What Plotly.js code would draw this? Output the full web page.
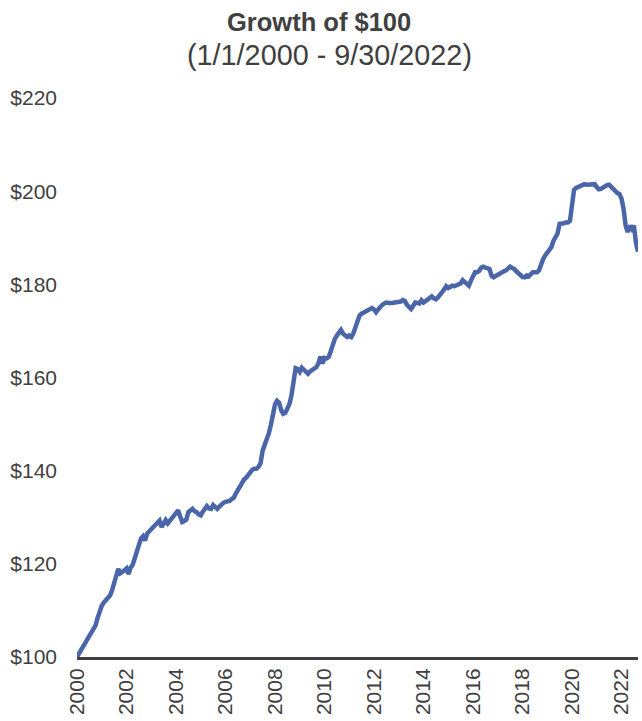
<!DOCTYPE html>
<html>
<head>
<meta charset="utf-8">
<script src="https://cdn.plot.ly/plotly-3.0.1.min.js"></script>
<style>
  html, body { margin: 0; padding: 0; background: #ffffff; }
  #chart { width: 642px; height: 721px; }
</style>
</head>
<body>
<div id="chart"></div>
<script>
// Monthly growth of $100, Jan 2000 .. Sep 2022
const startYear = 2000;
const values2000 = [100, 100.8, 101.3, 102.2, 103, 103.8, 104.6, 105.4, 106, 106.8, 108.4, 110];
const values2001 = [111, 111.7, 112.2, 112.5, 113.2, 114.3, 116, 117.3, 118.9, 118, 118.2, 118.6];
const values2002 = [119, 117.8, 119.2, 119.8, 121.2, 122.6, 124, 125.4, 125.9, 125, 126.5, 127];
const values2003 = [127.5, 127.8, 128.3, 128.8, 129.3, 127.9, 128.6, 129.4, 128.7, 129.2, 129.6, 130.4];
const values2004 = [130.9, 131.5, 130, 129, 129.2, 129.5, 131.1, 131.5, 131.8, 131.3, 131.1, 130.6];
const values2005 = [130.4, 131.2, 131.8, 132.4, 131.9, 131.8, 132.6, 132.1, 131.8, 132.3, 132.8, 133.1];
const values2006 = [133.3, 133.4, 133.5, 133.9, 134.2, 135.1, 135.9, 136.9, 137.7, 138.1, 138.5, 139.1];
const values2007 = [139.6, 140.2, 140.4, 140.4, 140.8, 141.6, 144.3, 145.5, 146.6, 148, 149.8, 152.5];
const values2008 = [154.2, 155, 154.6, 153, 152.2, 152.4, 153.2, 154.3, 156.2, 159.5, 162, 161.8];
const values2009 = [161.2, 162.1, 161.7, 161.3, 160.8, 161.3, 161.7, 161.8, 162.2, 163, 164.5, 163];
const values2010 = [164.2, 164.1, 164.4, 165.6, 167.2, 168.3, 169, 169.6, 170.2, 169.4, 168.9, 168.7];
const values2011 = [169, 168.7, 169.5, 171, 171.9, 173.3, 173.7, 173.9, 174.1, 174.3, 174.5, 174.9];
const values2012 = [174.6, 174, 174.6, 175.2, 175.6, 175.9, 176.1, 176, 175.9, 176, 176.1, 176.1];
const values2013 = [176.2, 176.3, 176.6, 176.4, 175.6, 175, 174.7, 175.4, 176.1, 176, 175.9, 176.6];
const values2014 = [176.1, 176.4, 176.8, 177.1, 177.4, 177, 176.8, 177.2, 177.6, 178.3, 178.9, 179.6];
const values2015 = [179.2, 179.6, 179.7, 179.6, 179.8, 180, 180.2, 180.9, 180.5, 180.1, 179.7, 180.8];
const values2016 = [182, 182.6, 182.6, 182.9, 183.6, 183.8, 183.6, 183.5, 183.3, 181.8, 181.5, 181.8];
const values2017 = [182.1, 182.3, 182.6, 182.8, 183, 183.5, 183.8, 183.5, 183.3, 182.8, 182.4, 181.8];
const values2018 = [181.6, 181.5, 181.9, 181.7, 182.2, 182.6, 182.6, 182.6, 183, 184.4, 185.4, 186.2];
const values2019 = [186.9, 187.6, 188, 189.3, 190.4, 190.9, 193, 193, 193.1, 193.3, 193.3, 193.6];
const values2020 = [197, 200.3, 200.7, 200.9, 201.2, 201.4, 201.5, 201.4, 201.4, 201.4, 201.5, 201.5];
const values2021 = [200.9, 200.4, 200.5, 200.8, 201.1, 201.3, 201.4, 200.9, 200.4, 199.9, 199.6, 199.4];
const values2022 = [198.4, 196.2, 192.6, 191.2, 192.6, 191.9, 192.6, 189, 187];

const tickYears = [2000, 2002, 2004, 2006, 2008, 2010, 2012, 2014, 2016, 2018, 2020, 2022];
const tickLabels = ["2000", "2002", "2004", "2006", "2008", "2010", "2012", "2014", "2016", "2018", "2020", "2022"];
const yTicks = [100, 120, 140, 160, 180, 200, 220];
const yTickLabels = ["$100", "$120", "$140", "$160", "$180", "$200", "$220"];
const titleText = "Growth of $100";
const subtitleText = "(1/1/2000 - 9/30/2022)";

const allValues = [].concat(values2000, values2001, values2002, values2003, values2004,
  values2005, values2006, values2007, values2008, values2009, values2010, values2011,
  values2012, values2013, values2014, values2015, values2016, values2017, values2018,
  values2019, values2020, values2021, values2022);
const xs = allValues.map((v, i) => startYear + i / 12);

const textColor = '#404040';
const fontFam = '"Liberation Sans", Arial, sans-serif';

const W = 642, H = 721;
const mL = 77, mR = 4, mT = 98, mB = 64;
const plotW = W - mL - mR, plotH = H - mT - mB;
// paper coordinates for the centred titles
const titleX = (319 - mL) / plotW;
const subX = (329 - mL) / plotW;
const titleY = (H - mB - 22) / plotH;
const subY = (H - mB - 55) / plotH;

const trace = {
  x: xs, y: allValues, type: 'scatter', mode: 'lines',
  line: { color: '#4a65a8', width: 4.5, shape: 'linear' },
  hoverinfo: 'skip', showlegend: false
};

const layout = {
  width: W, height: H,
  paper_bgcolor: '#ffffff', plot_bgcolor: '#ffffff',
  margin: { l: mL, r: mR, t: mT, b: mB, pad: 0 },
  font: { family: fontFam, color: textColor, size: 21 },
  annotations: [
    { text: '<b>' + titleText + '</b>', xref: 'paper', yref: 'paper', x: titleX, y: titleY,
      xanchor: 'center', yanchor: 'middle', showarrow: false,
      font: { family: fontFam, size: 25.5, color: textColor } },
    { text: subtitleText, xref: 'paper', yref: 'paper', x: subX, y: subY,
      xanchor: 'center', yanchor: 'middle', showarrow: false,
      font: { family: fontFam, size: 28.8, color: textColor } }
  ],
  xaxis: {
    range: [2000, xs[xs.length - 1]],
    tickvals: tickYears, ticktext: tickLabels,
    tickangle: -90, ticks: '', showgrid: false, zeroline: false,
    showline: true, linecolor: '#404040', linewidth: 3,
    tickfont: { family: fontFam, size: 21, color: textColor },
    ticklabelstandoff: 0
  },
  yaxis: {
    range: [100, 220],
    tickvals: yTicks, ticktext: yTickLabels,
    ticks: '', showgrid: false, zeroline: false, showline: false,
    tickfont: { family: fontFam, size: 21, color: textColor },
    ticklabelstandoff: 19
  }
};

Plotly.newPlot('chart', [trace], layout, { displayModeBar: false, staticPlot: true });
</script>
</body>
</html>
